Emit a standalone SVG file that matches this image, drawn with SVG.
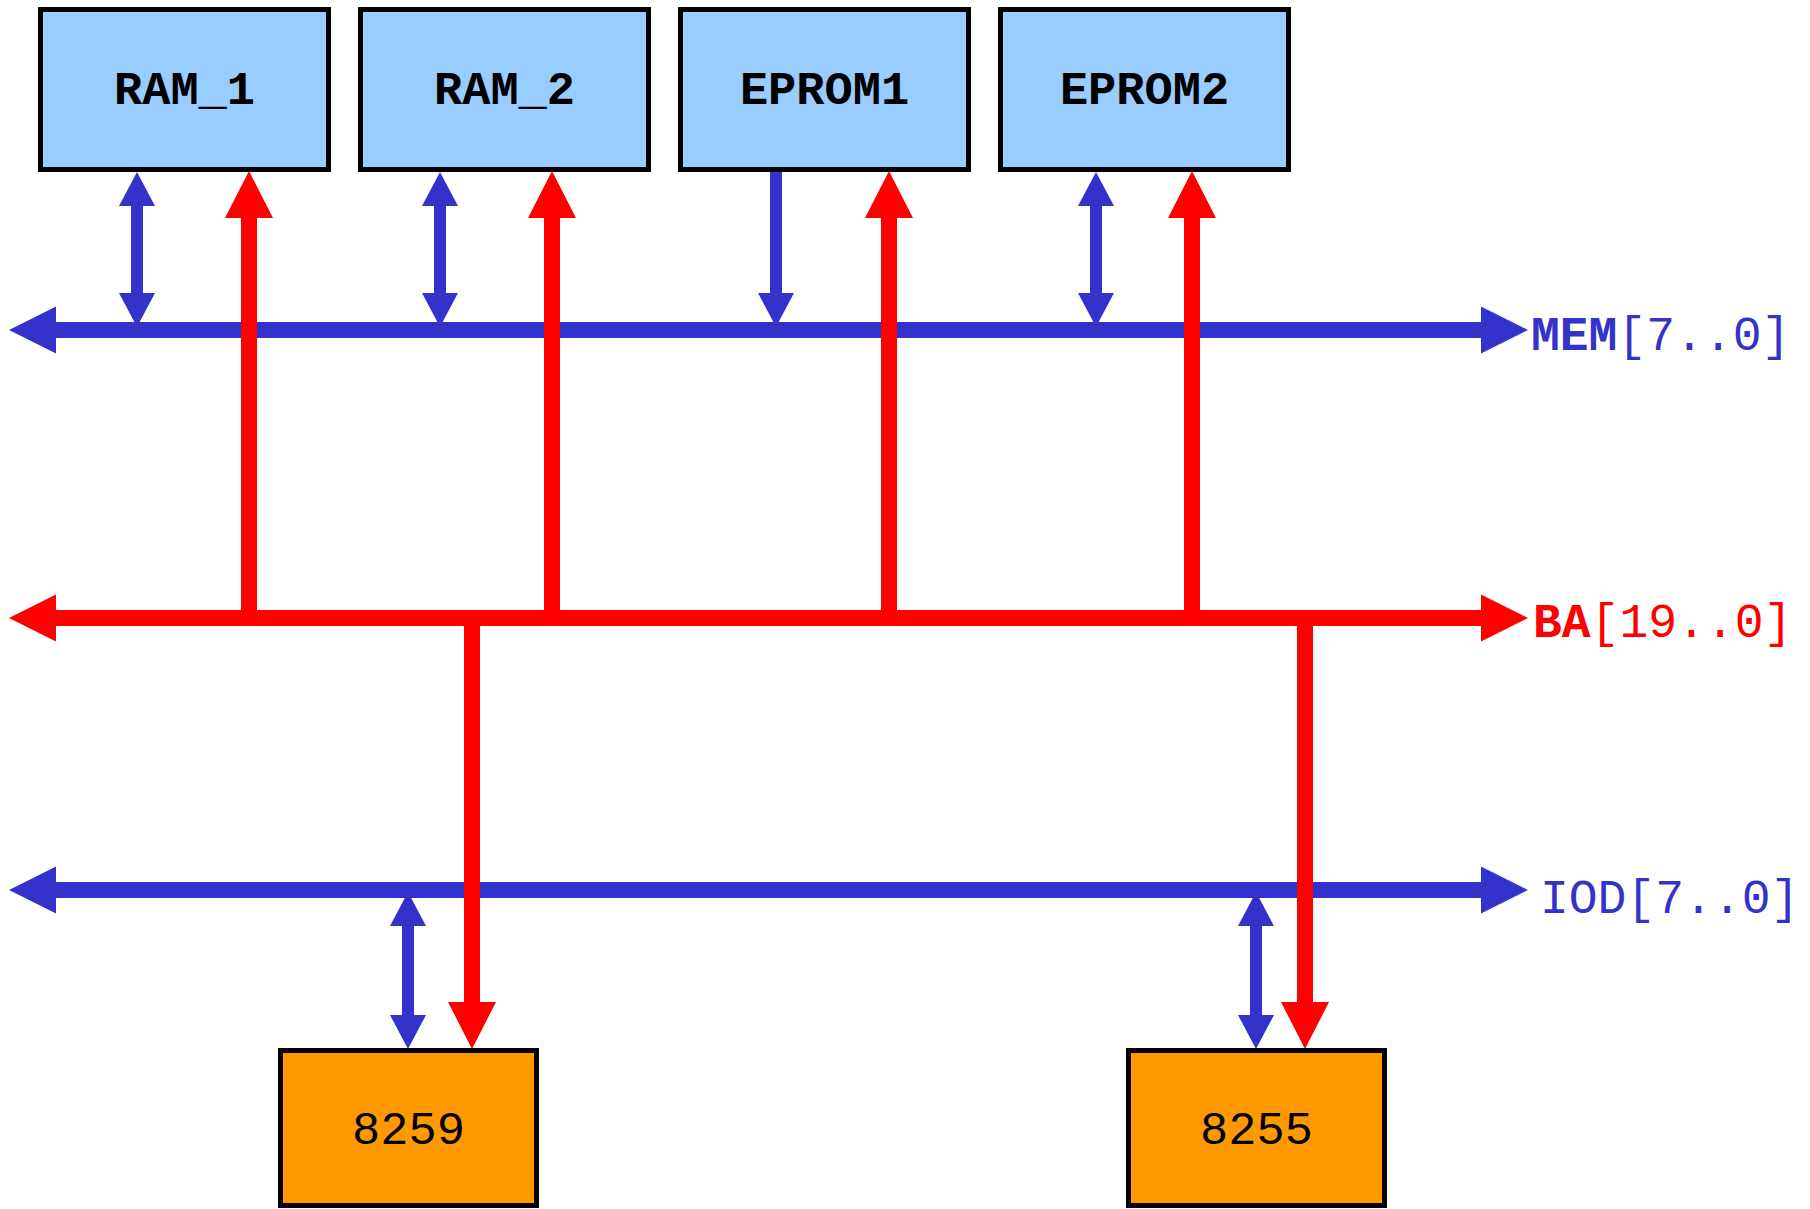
<svg xmlns="http://www.w3.org/2000/svg" width="1810" height="1209" viewBox="0 0 1810 1209">
  <style>
    .mem { fill: #99CCFF; stroke: #000000; stroke-width: 5; }
    .io { fill: #FF9900; stroke: #000000; stroke-width: 5; }
    .lbl { font-family: "Liberation Mono", "Courier New", monospace; font-size: 47px; text-anchor: middle; fill: #000000; }
    .b { font-weight: bold; }
    .bus-lbl { font-family: "Liberation Mono", "Courier New", monospace; font-size: 48px; }
    .bluebus { stroke: #3333CC; stroke-width: 16; fill: none; }
    .redbus { stroke: #FF0000; stroke-width: 16; fill: none; }
    .redline { stroke: #FF0000; stroke-width: 16; fill: none; }
    .blueline { stroke: #3333CC; stroke-width: 12; fill: none; }
  </style>
  <defs>
    <marker id="busBlue" markerUnits="userSpaceOnUse" markerWidth="48" markerHeight="48" refX="0" refY="23.5" orient="auto-start-reverse" overflow="visible">
      <path d="M0,0 L47,23.5 L0,47 Z" fill="#3333CC"/>
    </marker>
    <marker id="busRed" markerUnits="userSpaceOnUse" markerWidth="48" markerHeight="48" refX="0" refY="23.5" orient="auto-start-reverse" overflow="visible">
      <path d="M0,0 L47,23.5 L0,47 Z" fill="#FF0000"/>
    </marker>
    <marker id="headRed" markerUnits="userSpaceOnUse" markerWidth="48" markerHeight="48" refX="0" refY="24" orient="auto-start-reverse" overflow="visible">
      <path d="M0,0 L47,24 L0,48 Z" fill="#FF0000"/>
    </marker>
    <marker id="headBlue" markerUnits="userSpaceOnUse" markerWidth="36" markerHeight="36" refX="0" refY="18" orient="auto-start-reverse" overflow="visible">
      <path d="M0,0 L34,18 L0,36 Z" fill="#3333CC"/>
    </marker>
  </defs>

  <g id="connectors">
    <!-- buses -->
    <line class="bluebus" x1="56" y1="330" x2="1481" y2="330" marker-start="url(#busBlue)" marker-end="url(#busBlue)"/>
    <line class="redbus" x1="56" y1="618" x2="1481" y2="618" marker-start="url(#busRed)" marker-end="url(#busRed)"/>
    <line class="bluebus" x1="56" y1="890" x2="1481" y2="890" marker-start="url(#busBlue)" marker-end="url(#busBlue)"/>

    <!-- blue data connectors -->
    <line class="blueline" x1="137" y1="206" x2="137" y2="293" marker-start="url(#headBlue)" marker-end="url(#headBlue)"/>
    <line class="blueline" x1="440" y1="206" x2="440" y2="293" marker-start="url(#headBlue)" marker-end="url(#headBlue)"/>
    <line class="blueline" x1="776" y1="170" x2="776" y2="293" marker-end="url(#headBlue)"/>
    <line class="blueline" x1="1096" y1="206" x2="1096" y2="293" marker-start="url(#headBlue)" marker-end="url(#headBlue)"/>
    <line class="blueline" x1="408" y1="926" x2="408" y2="1015" marker-start="url(#headBlue)" marker-end="url(#headBlue)"/>
    <line class="blueline" x1="1256" y1="926" x2="1256" y2="1015" marker-start="url(#headBlue)" marker-end="url(#headBlue)"/>

    <!-- red address connectors -->
    <line class="redline" x1="249" y1="618" x2="249" y2="218" marker-end="url(#headRed)"/>
    <line class="redline" x1="552" y1="618" x2="552" y2="218" marker-end="url(#headRed)"/>
    <line class="redline" x1="889" y1="618" x2="889" y2="218" marker-end="url(#headRed)"/>
    <line class="redline" x1="1192" y1="618" x2="1192" y2="218" marker-end="url(#headRed)"/>
    <line class="redline" x1="472" y1="618" x2="472" y2="1002" marker-end="url(#headRed)"/>
    <line class="redline" x1="1305" y1="618" x2="1305" y2="1002" marker-end="url(#headRed)"/>
  </g>

  <g id="bus-labels">
    <text class="bus-lbl" x="1531" y="350" fill="#3333CC"><tspan font-weight="bold">MEM</tspan>[7..0]</text>
    <text class="bus-lbl" x="1533" y="637" fill="#FF0000"><tspan font-weight="bold">BA</tspan>[19..0]</text>
    <text class="bus-lbl" x="1540" y="913" fill="#3333CC">IOD[7..0]</text>
  </g>

  <g id="RAM_1">
    <rect class="mem" x="40.5" y="9.5" width="288" height="160"/>
    <text class="lbl b" x="184.5" y="104">RAM_1</text>
  </g>
  <g id="RAM_2">
    <rect class="mem" x="360.5" y="9.5" width="288" height="160"/>
    <text class="lbl b" x="504.5" y="104">RAM_2</text>
  </g>
  <g id="EPROM1">
    <rect class="mem" x="680.5" y="9.5" width="288" height="160"/>
    <text class="lbl b" x="824.5" y="104">EPROM1</text>
  </g>
  <g id="EPROM2">
    <rect class="mem" x="1000.5" y="9.5" width="288" height="160"/>
    <text class="lbl b" x="1144.5" y="104">EPROM2</text>
  </g>
  <g id="n8259">
    <rect class="io" x="280.5" y="1050.5" width="256" height="155"/>
    <text class="lbl" x="408.5" y="1144">8259</text>
  </g>
  <g id="n8255">
    <rect class="io" x="1128.5" y="1050.5" width="256" height="155"/>
    <text class="lbl" x="1256.5" y="1144">8255</text>
  </g>
</svg>
